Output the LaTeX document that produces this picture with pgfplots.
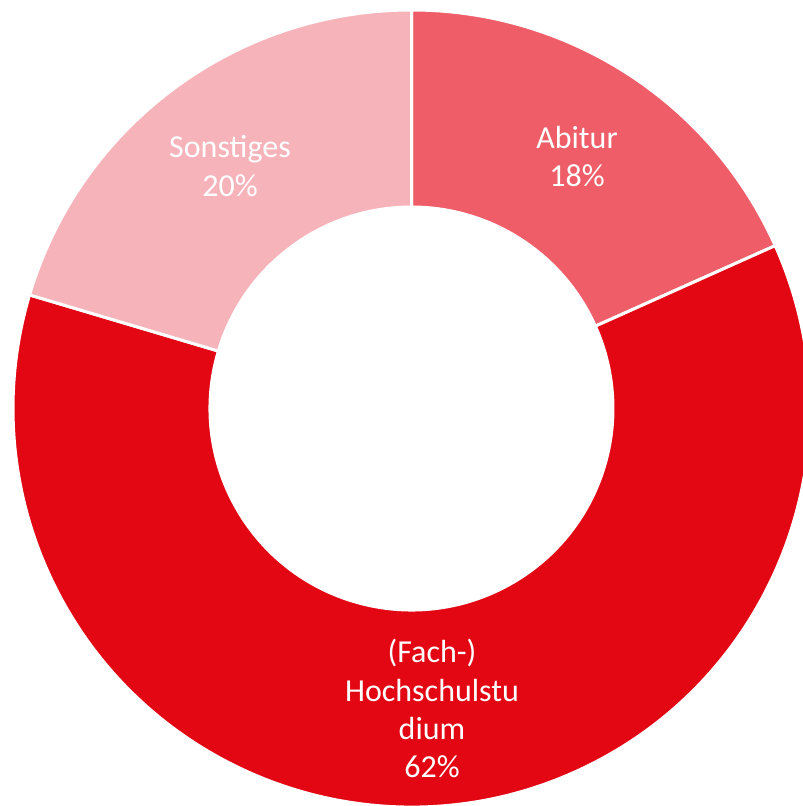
\documentclass[border=0pt]{standalone}
\usepackage{pgfplots}
\pgfplotsset{compat=1.18}
\usepackage{fontspec}
\setmainfont{Carlito}
\definecolor{abitur}{RGB}{238,93,104}
\definecolor{hoch}{RGB}{227,6,19}
\definecolor{sonst}{RGB}{246,180,186}
% shares (percent): Abitur 18.3, Hochschulstudium 61.3, Sonstiges 20.4
% angles: start 90, clockwise
\newcommand{\slice}[3]{%
  \fill[#3,draw=white,line width=3pt]
    (axis cs:{398.5*cos(#1)},{398.5*sin(#1)}) arc[start angle=#1,end angle=#2,radius=398.5pt]
    -- (axis cs:{201.5*cos(#2)},{201.5*sin(#2)}) arc[start angle=#2,end angle=#1,radius=201.5pt]
    -- cycle;}
\begin{document}
\begin{tikzpicture}
\begin{axis}[
  scale only axis, width=803pt, height=806pt,
  xmin=-411.5, xmax=391.5, ymin=-397.5, ymax=408.5,
  axis lines=none, clip=true,
]
\addplot[draw=none] coordinates {(0,0)};
\slice{90}{24.12}{abitur}
\slice{24.12}{-196.56}{hoch}
\slice{-196.56}{-270}{sonst}
\tikzset{lbl/.style={anchor=base,text=white,font=\fontsize{32}{39}\selectfont,inner sep=0pt}}
\node[lbl] at (axis cs:-181.5,250.5) {Sonstiges};
\node[lbl] at (axis cs:-181.5,211.5) {20\%};
\node[lbl] at (axis cs:165.5,259.5) {Abitur};
\node[lbl] at (axis cs:165.5,221.5) {18\%};
\node[lbl] at (axis cs:20.5,-254.5) {(Fach-)};
\node[lbl] at (axis cs:20.5,-293.5) {Hochschulstu};
\node[lbl] at (axis cs:20.5,-331.5) {dium};
\node[lbl] at (axis cs:20.5,-369.5) {62\%};
\end{axis}
\pgfresetboundingbox
\useasboundingbox (current axis.south west) rectangle (current axis.north east);
\end{tikzpicture}
\end{document}
